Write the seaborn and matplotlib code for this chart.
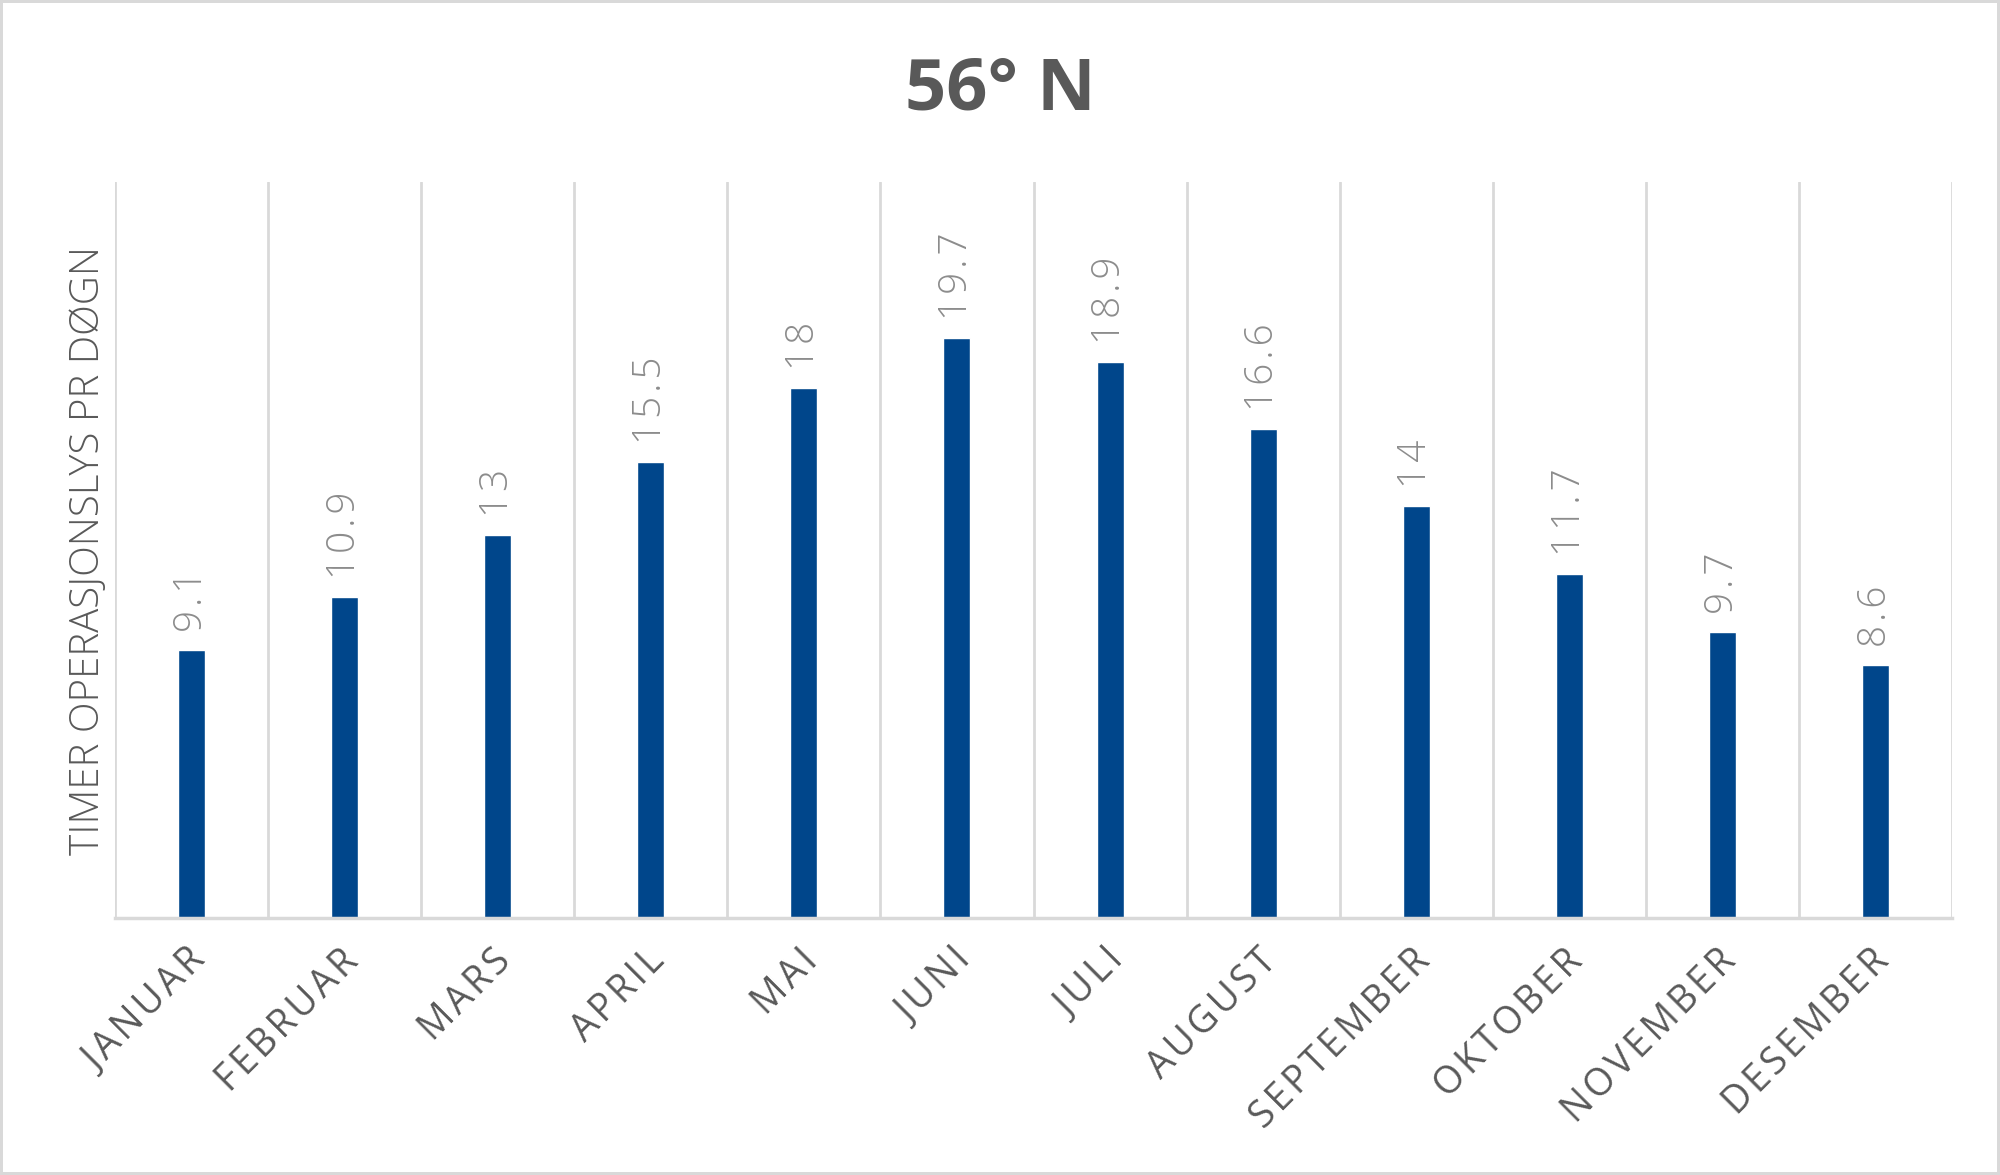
import numpy as np
import pandas as pd
import matplotlib
matplotlib.use("Agg")
import matplotlib.pyplot as plt
import matplotlib.transforms as mtransforms
import seaborn as sns

# data
months = ["JANUAR", "FEBRUAR", "MARS", "APRIL", "MAI", "JUNI",
          "JULI", "AUGUST", "SEPTEMBER", "OKTOBER", "NOVEMBER", "DESEMBER"]
hours = [9.1, 10.9, 13, 15.5, 18, 19.7, 18.9, 16.6, 14, 11.7, 9.7, 8.6]
value_labels = ["9.1", "10.9", "13", "15.5", "18", "19.7",
                "18.9", "16.6", "14", "11.7", "9.7", "8.6"]

title = "56° N"
ylabel = "TIMER OPERASJONSLYS PR DØGN"

df = pd.DataFrame({"Month": months, "Hours": hours})

sns.set_theme(style="white")
plt.rcParams["font.family"] = ["Open Sans", "DejaVu Sans"]

grid_col = "#d9d9d9"
text_col = "#595959"
label_col = "#8c8c8c"
bar_col = "#00468b"

HAIR = "\u200a"


def spaced(s):
    # rough stand-in for the wide letter spacing in the original
    return HAIR.join(s)


fig = plt.figure(figsize=(20, 11.75), dpi=100, edgecolor=grid_col, linewidth=4)
ax = fig.add_axes([0.0575, 0.2187, 0.9185, 0.6263])

sns.barplot(data=df, x="Month", y="Hours", color=bar_col, width=0.176,
            saturation=1, ax=ax)

ax.set_ylim(0, 25)
ax.set_xlim(-0.5, 11.5)
ax.set_yticks([])
ax.set_xlabel("")

# vertical gridlines between categories
ax.set_xticks(np.arange(-0.5, 12, 1), minor=True)
ax.grid(which="minor", axis="x", color=grid_col, linewidth=2)
ax.tick_params(axis="x", which="both", length=0)
for side in ["top", "left", "right"]:
    ax.spines[side].set_visible(False)
ax.spines["bottom"].set_color(grid_col)
ax.spines["bottom"].set_linewidth(2.5)

# month labels
ax.set_xticks(range(len(months)), [spaced(m) for m in months])
ax.tick_params(axis="x", which="major", pad=27, labelsize=27, labelcolor=text_col)
shift = mtransforms.ScaledTranslation(0.08, 0, fig.dpi_scale_trans)
for lab in ax.get_xticklabels():
    lab.set_rotation(45)
    lab.set_ha("right")
    lab.set_va("center")
    lab.set_rotation_mode("anchor")
    lab.set_transform(lab.get_transform() + shift)

# value labels
ax.bar_label(ax.containers[0], labels=[spaced(v) for v in value_labels],
             rotation=90, padding=13, fontsize=28, color=label_col,
             fontweight="light")

ax.set_ylabel(ylabel, fontsize=29, color=text_col, fontweight="light")
ax.yaxis.label.set_va("center")
ax.yaxis.set_label_coords((89 - 115) / 1837, 0.5)

fig.text(0.5, 1 - 90 / 1175, title, ha="center", va="center",
         fontsize=52, fontweight="bold", color=text_col)

fig.savefig("out.png", dpi=100, edgecolor=fig.get_edgecolor())
